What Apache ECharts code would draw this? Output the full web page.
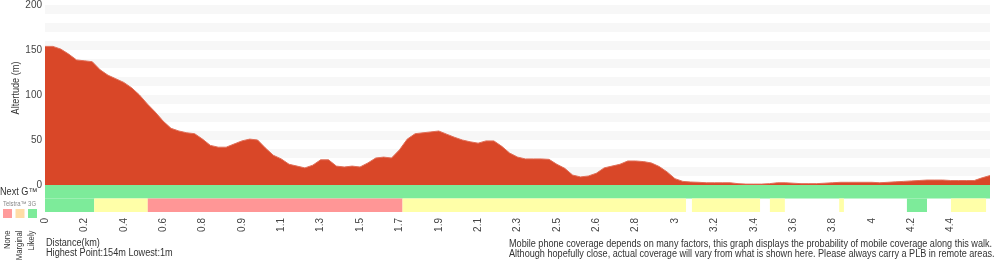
<!DOCTYPE html>
<html>
<head>
<meta charset="UTF-8">
<title>Walk elevation</title>
<script src="https://cdn.jsdelivr.net/npm/echarts@6/dist/echarts.min.js"></script>
<style>
body { margin: 0; padding: 0; background: #fff; }
#main { width: 1000px; height: 260px; }
</style>
</head>
<body>
<div id="main"></div>
<script>
// elevation (m), one value every 2 profile points
var elevation = [
  154, 154, 151, 145.5, 139, 138, 137, 128, 122, 118,
  114, 108, 100, 90, 81, 71, 63, 60, 58, 57,
  51, 44, 42, 42, 45.5, 49, 51, 50, 41, 33,
  29, 23, 21, 19, 22, 28, 28, 21, 20, 21,
  20, 24.5, 30, 31, 30, 39, 51, 57, 58, 59,
  60, 56.5, 53, 50, 48, 46.5, 49, 49, 43, 35.5,
  31, 29, 29, 29, 28.5, 23, 18.5, 11, 9, 10,
  13, 19, 21, 23, 26.7, 26.7, 26, 24.5, 20.5, 14.5,
  7, 4, 3.3, 3, 2.5, 2.5, 2.5, 2.5, 1.5, 1,
  1, 1, 1.5, 2.5, 2.5, 2, 1.5, 1.5, 1.5, 2,
  2.5, 3, 3, 3, 3, 3, 2.5, 3, 3.5, 4,
  4.5, 5, 5.5, 5.5, 5.5, 5, 5, 5, 5, 8,
  10.5
];
var pointStep = 2;
var totalPoints = 240;

// distance labels, one every 10 profile points
var tickLabels = ['0', '0.2', '0.4', '0.6', '0.8', '0.9', '1.1', '1.3', '1.5', '1.7', '1.9', '2.1',
  '2.3', '2.5', '2.6', '2.8', '3', '3.2', '3.4', '3.6', '3.8', '4', '4.2', '4.4'];

// coverage segments: [start point, end point, level] level 0 none, 1 marginal, 2 likely
var nextG = [[0, 240, 2]];
var telstra3G = [
  [0, 12.5, 2], [12.5, 26.1, 1], [26.1, 90.8, 0], [90.8, 162.8, 1],
  [164.3, 181.6, 1], [184.1, 187.9, 1], [201.7, 202.9, 1],
  [218.9, 224.0, 2], [230.1, 239.0, 1]
];
var levelColors = ['#ff9696', '#ffffa8', '#7deb9a'];
var legendColors = ['#ff9b9b', '#ffdda6', '#7deb9a'];
var levelNames = ['None', 'Marginal', 'Likely'];

var font = '"Liberation Sans", Arial, sans-serif';
var narrow = 0.915; // the original type is a little narrower than Liberation Sans

var profile = elevation.map(function (v, i) { return [i * pointStep, v]; });
var segments = [];
nextG.forEach(function (s) { segments.push([0, s[0], s[1], s[2]]); });
telstra3G.forEach(function (s) { segments.push([1, s[0], s[1], s[2]]); });

function renderSegment(params, api) {
  var row = api.value(0);
  var a = api.coord([api.value(1), row]);
  var b = api.coord([api.value(2), row]);
  var h = api.size([0, 1])[1];
  return {
    type: 'rect',
    shape: { x: a[0], y: a[1] - h / 2, width: b[0] - a[0], height: h },
    style: { fill: levelColors[api.value(3)] }
  };
}

function label(x, y, text, size, color, extra) {
  var el = {
    type: 'text', x: x, y: y, scaleX: narrow,
    style: { text: text, font: size + 'px ' + font, fill: color }
  };
  if (extra) {
    for (var k in extra) {
      if (k === 'style') {
        for (var s in extra.style) el.style[s] = extra.style[s];
      } else {
        el[k] = extra[k];
      }
    }
  }
  return el;
}

var chart = echarts.init(document.getElementById('main'), null, { renderer: 'canvas' });

var graphics = [
  label(0, 187, 'Next G™', 10, '#333'),
  label(3, 201, 'Telstra™ 3G', 6.5, '#888')
];
legendColors.forEach(function (c, i) {
  graphics.push({ type: 'rect', shape: { x: 3 + i * 12.5, y: 209, width: 9, height: 9 }, style: { fill: c } });
  graphics.push(label(8 + i * 12, 230.5, levelNames[i], 8.5, '#333',
    { rotation: Math.PI / 2, style: { align: 'right', verticalAlign: 'middle' } }));
});
graphics.push(label(16, 88, 'Altertude (m)', 10, '#333',
  { rotation: Math.PI / 2, style: { align: 'center', verticalAlign: 'middle' } }));
graphics.push(label(46, 238, 'Distance(km)', 10, '#333'));
graphics.push(label(46, 248, 'Highest Point:154m Lowest:1m', 10, '#333'));
graphics.push(label(509, 239,
  'Mobile phone coverage depends on many factors, this graph displays the probability of mobile coverage along this walk.\n' +
  'Although hopefully close, actual coverage will vary from what is shown here. Please always carry a PLB in remote areas.',
  10, '#333', { scaleX: 0.91, style: { lineHeight: 10 } }));

var option = {
  animation: false,
  textStyle: { fontFamily: font },
  grid: [
    { left: 45, right: 10, top: 5, height: 180 },
    { left: 45, right: 10, top: 185, height: 27 }
  ],
  xAxis: [
    {
      gridIndex: 0, type: 'value', min: 0, max: totalPoints, interval: 10,
      axisLine: { show: false }, axisTick: { show: false },
      axisLabel: { show: false }, splitLine: { show: false }
    },
    {
      gridIndex: 1, type: 'value', min: 0, max: totalPoints, interval: 10,
      axisLine: { show: false }, axisTick: { show: false }, splitLine: { show: false },
      axisLabel: {
        rotate: 90, margin: 6, fontSize: 10, color: '#444', fontFamily: font,
        formatter: function (v) {
          var k = Math.round(v / 10);
          return tickLabels[k] !== undefined ? tickLabels[k] : '';
        }
      }
    }
  ],
  yAxis: [
    {
      gridIndex: 0, type: 'value', min: 0, max: 200, interval: 10,
      axisLine: { show: false }, axisTick: { show: false },
      splitLine: { show: false },
      splitArea: { show: true, areaStyle: { color: ['#ffffff', '#f7f7f7'] } },
      axisLabel: {
        fontSize: 10, color: '#444', margin: 3, fontFamily: font,
        formatter: function (v) { return v % 50 === 0 ? String(v) : ''; }
      }
    },
    {
      gridIndex: 1, type: 'category', data: ['Next G', 'Telstra 3G'], inverse: true,
      show: false
    }
  ],
  series: [
    {
      type: 'line', xAxisIndex: 0, yAxisIndex: 0,
      data: profile, showSymbol: false, smooth: false,
      lineStyle: { color: '#e0705a', width: 1 },
      areaStyle: { color: '#d94728', opacity: 1 }
    },
    {
      type: 'custom', xAxisIndex: 1, yAxisIndex: 1,
      renderItem: renderSegment,
      encode: { x: [1, 2], y: 0 },
      data: segments
    }
  ],
  graphic: graphics
};
chart.setOption(option);
</script>
</body>
</html>
